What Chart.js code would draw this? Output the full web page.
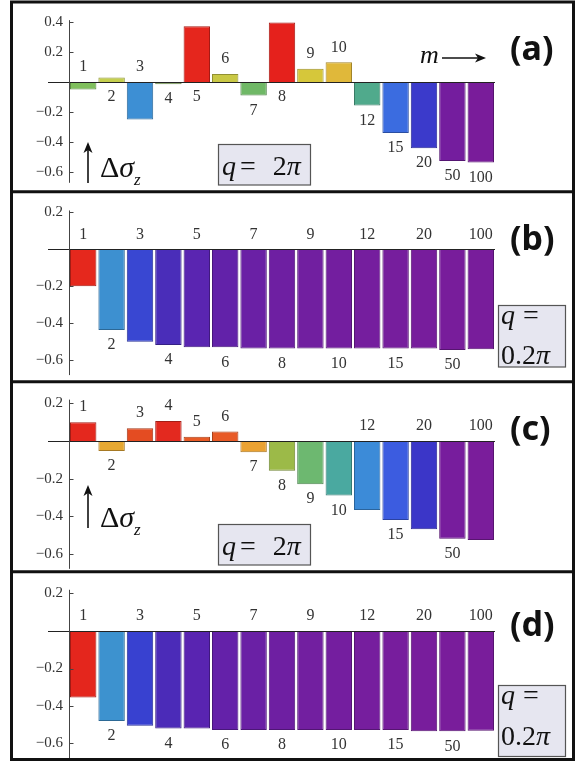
<!DOCTYPE html>
<html><head><meta charset="utf-8">
<script src="https://cdn.jsdelivr.net/npm/chart.js@4/dist/chart.umd.min.js"></script>
<style>
html,body{margin:0;padding:0;background:#fff}
body{width:579px;height:762px;position:relative;overflow:hidden}
canvas{position:absolute;left:0}
#ov{position:absolute;left:0;top:0;pointer-events:none}
</style></head>
<body>
<canvas id="cA" width="579" height="191" style="top:0px"></canvas>
<canvas id="cB" width="579" height="191" style="top:191px"></canvas>
<canvas id="cC" width="579" height="191" style="top:381px"></canvas>
<canvas id="cD" width="579" height="191" style="top:571px"></canvas>
<svg id="ov" width="579" height="762" xmlns="http://www.w3.org/2000/svg">
 <g fill="none" stroke="#111" stroke-width="3">
  <rect x="11.5" y="2" width="562" height="757.5"/>
  <line x1="11.5" y1="191.7" x2="573.5" y2="191.7"/>
  <line x1="11.5" y1="381.7" x2="573.5" y2="381.7"/>
  <line x1="11.5" y1="571.7" x2="573.5" y2="571.7"/>
 </g>
 <g font-family="Noto Sans" font-weight="bold" font-size="34" fill="#111">
  <text x="510" y="60">(a)</text>
  <text x="510" y="250">(b)</text>
  <text x="510" y="440">(c)</text>
  <text x="510" y="636">(d)</text>
 </g>
 <g fill="#e6e6f0" stroke="#555" stroke-width="1.2">
  <rect x="218.5" y="144.5" width="92" height="40.5"/>
  <rect x="498.5" y="305.5" width="67" height="61.5"/>
  <rect x="218.5" y="524.5" width="92" height="40.5"/>
  <rect x="498.5" y="685.5" width="67" height="71"/>
 </g>
 <g font-family="Liberation Serif" font-size="28" fill="#111">
  <text x="222" y="175"><tspan font-style="italic">q</tspan><tspan dx="4">=</tspan><tspan dx="17">2</tspan><tspan font-style="italic">π</tspan></text>
  <text x="501" y="324"><tspan font-style="italic">q</tspan><tspan dx="8">=</tspan></text>
  <text x="501" y="364">0.2<tspan font-style="italic">π</tspan></text>
  <text x="222" y="555"><tspan font-style="italic">q</tspan><tspan dx="4">=</tspan><tspan dx="17">2</tspan><tspan font-style="italic">π</tspan></text>
  <text x="501" y="704"><tspan font-style="italic">q</tspan><tspan dx="8">=</tspan></text>
  <text x="501" y="745">0.2<tspan font-style="italic">π</tspan></text>
 </g>
 <g font-family="Liberation Serif" fill="#111">
  <text x="100" y="177" font-size="30">Δ<tspan font-style="italic">σ</tspan><tspan font-style="italic" font-size="17" dy="8">z</tspan></text>
  <text x="100" y="527" font-size="30">Δ<tspan font-style="italic">σ</tspan><tspan font-style="italic" font-size="17" dy="8">z</tspan></text>
  <text x="420" y="63" font-size="26" font-style="italic">m</text>
 </g>
 <g stroke="#111" stroke-width="1.6" fill="#111">
  <line x1="88" y1="183" x2="88" y2="148"/>
  <polygon points="88,142 83.5,153 88,150 92.5,153" stroke="none"/>
  <line x1="88" y1="528" x2="88" y2="491"/>
  <polygon points="88,485 83.5,496 88,493 92.5,496" stroke="none"/>
  <line x1="442" y1="58" x2="480" y2="58"/>
  <polygon points="486,58 475,53.5 478,58 475,62.5" stroke="none"/>
 </g>
</svg>
<script>
// ---- data ----
const categories = ['1','2','3','4','5','6','7','8','9','10','12','15','20','50','100'];
const valuesA = [-0.05, 0.03, -0.25, -0.015, 0.37, 0.053, -0.09, 0.395, 0.087, 0.13, -0.157, -0.34, -0.44, -0.525, -0.535];
const valuesB = [-0.2, -0.436, -0.5, -0.517, -0.529, -0.53, -0.536, -0.536, -0.536, -0.536, -0.536, -0.536, -0.536, -0.544, -0.54];
const valuesC = [0.1, -0.053, 0.068, 0.106, 0.023, 0.05, -0.06, -0.158, -0.23, -0.29, -0.367, -0.42, -0.47, -0.52, -0.527];
const valuesD = [-0.354, -0.48, -0.505, -0.52, -0.52, -0.528, -0.528, -0.528, -0.528, -0.528, -0.528, -0.528, -0.535, -0.535, -0.532];
const yTicksA = [-0.6, -0.4, -0.2, 0.2, 0.4];
const yTicksBCD = [-0.6, -0.4, -0.2, 0.2];
const labelSideA = [1,-1,1,-1,-1,1,-1,-1,1,1,-1,-1,-1,-1,-1];
const labelSideB = [1,-1,1,-1,1,-1,1,-1,1,-1,1,-1,1,-1,1];
const labelSideC = [1,-1,1,1,1,1,-1,-1,-1,-1,1,-1,1,-1,1];
const labelSideD = [1,-1,1,-1,1,-1,1,-1,1,-1,1,-1,1,-1,1];

// ---- styles ----
const colorsA = ['#7fbf5c','#c5cf4e','#3d8fd4','#8fb86a','#e5261d','#c9c845','#6fb866','#e5211c','#d6c73a','#e0b83a','#50aa8c','#3b6ce0','#3b3acb','#741d9e','#791c9a'];
const colorsB = ['#e5281d','#3d90d0','#3947d2','#4a2db9','#5a25b1','#6222a9','#6a20a5','#6e1fa2','#711fa0','#731e9f','#751e9e','#761e9d','#771d9c','#781d9b','#781d9b'];
const colorsC = ['#e4281e','#e6a832','#e44c22','#e3291f','#e85b26','#e85a26','#eaa232','#9cba48','#6db870','#4aa9a0','#3c8bd8','#3c5ce0','#3b36c8','#771d9d','#7a1d9b'];
const colorsD = ['#e4261d','#3d92cf','#3841d0','#4b2bb8','#5924b1','#6421a9','#6a20a5','#6e1fa2','#721fa0','#741e9f','#761e9e','#771d9d','#781d9c','#791d9b','#791d9b'];

function darken(hex, f){
  const n = parseInt(hex.slice(1),16);
  const r=(n>>16)&255, g=(n>>8)&255, b=n&255;
  return 'rgb(' + Math.round(r*f) + ',' + Math.round(g*f) + ',' + Math.round(b*f) + ')';
}
function fmt(v){ return (v < 0 ? '\u2212' : '') + Math.abs(v).toFixed(1); }

const axesPlugin = {
  id: 'mmaAxes',
  afterDatasetsDraw(chart){
    const {ctx, chartArea: a, scales: {y}} = chart;
    ctx.save();
    ctx.lineWidth = 1;
    ctx.strokeStyle = '#222';
    const y0 = Math.round(y.getPixelForValue(0)) + 0.5;
    ctx.beginPath(); ctx.moveTo(48, y0); ctx.lineTo(a.right, y0); ctx.stroke();
    ctx.strokeStyle = '#444';
    const xl = Math.round(a.left) + 0.5;
    ctx.beginPath(); ctx.moveTo(xl, a.top); ctx.lineTo(xl, a.bottom);
    y.ticks.forEach(t => {
      const py = Math.round(y.getPixelForValue(t.value)) + 0.5;
      ctx.moveTo(xl, py); ctx.lineTo(xl + 4, py);
    });
    ctx.stroke();
    ctx.restore();
  }
};
const labelPlugin = {
  id: 'barLabels',
  afterDatasetsDraw(chart, args, opts){
    const {ctx, scales: {y}} = chart;
    const meta = chart.getDatasetMeta(0);
    const vals = chart.data.datasets[0].data;
    ctx.save();
    ctx.font = '16px "Liberation Serif"';
    ctx.fillStyle = '#333';
    ctx.textAlign = 'center';
    ctx.textBaseline = 'middle';
    meta.data.forEach((bar, i) => {
      const v = vals[i];
      const s = opts.sides[i];
      const py = s > 0 ? y.getPixelForValue(Math.max(0, v)) - 15 : y.getPixelForValue(Math.min(0, v)) + 15;
      ctx.fillText(chart.data.labels[i], bar.x, py);
    });
    ctx.restore();
  }
};

function makePanel(id, values, colors, sides, yTicks, yMin, yMax, zeroRel, ppu){
  const cv = document.getElementById(id);
  const H = cv.height;
  const padTop = zeroRel - yMax * ppu;
  const padBottom = H - (zeroRel - yMin * ppu);
  return new Chart(cv, {
    type: 'bar',
    data: {
      labels: categories,
      datasets: [{
        data: values,
        backgroundColor: colors,
        borderColor: colors.map(c => darken(c, 0.72)),
        borderWidth: 1,
        barPercentage: 0.93,
        categoryPercentage: 1
      }]
    },
    options: {
      responsive: false, animation: false, devicePixelRatio: 1,
      layout: {padding: {left: 0, right: 84, top: padTop, bottom: padBottom}},
      plugins: {legend: {display: false}, tooltip: {enabled: false}, barLabels: {sides: sides}},
      scales: {
        x: {display: false, offset: true},
        y: {
          min: yMin, max: yMax,
          grid: {display: false, drawTicks: false},
          border: {display: false},
          ticks: {padding: 6, color: '#333', font: {family: 'Liberation Serif', size: 15}, callback: v => fmt(v)},
          afterBuildTicks: s => { s.ticks = yTicks.map(v => ({value: v})); },
          afterFit: s => { s.width = 69; s.paddingTop = 0; s.paddingBottom = 0; }
        }
      }
    },
    plugins: [axesPlugin, labelPlugin]
  });
}

makePanel('cA', valuesA, colorsA, labelSideA, yTicksA, -0.67, 0.41, 81.9, 150.6);
makePanel('cB', valuesB, colorsB, labelSideB, yTicksBCD, -0.68, 0.21, 58.3, 185);
makePanel('cC', valuesC, colorsC, labelSideC, yTicksBCD, -0.68, 0.22, 60, 188);
makePanel('cD', valuesD, colorsD, labelSideD, yTicksBCD, -0.68, 0.22, 60, 187.5);
</script>
</body></html>
